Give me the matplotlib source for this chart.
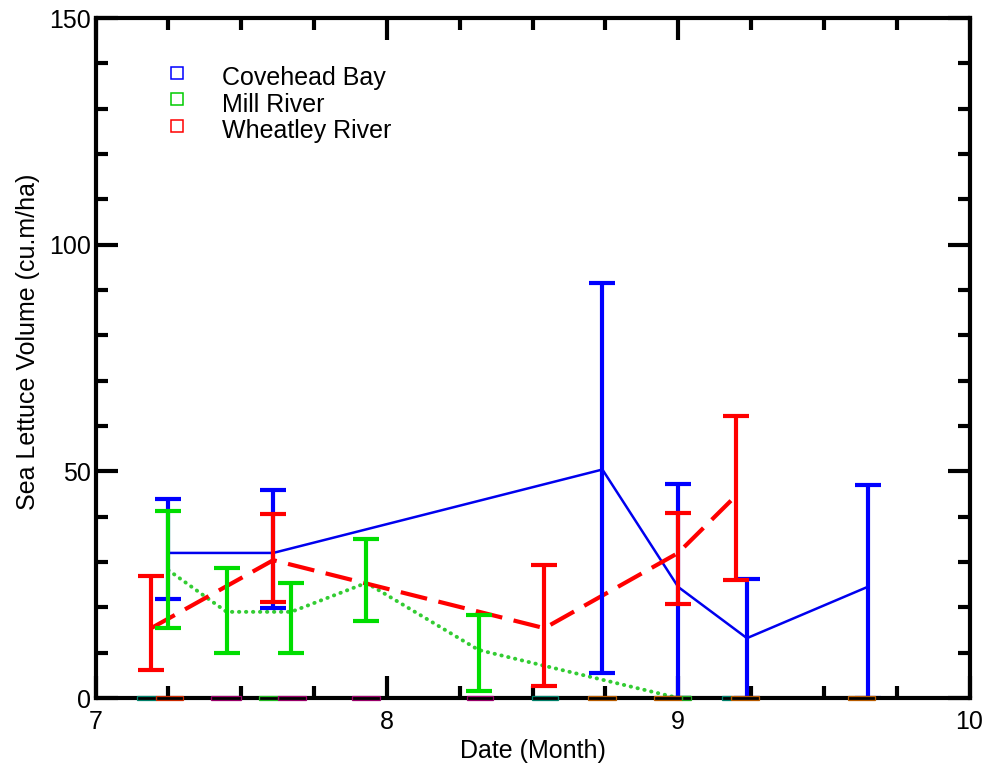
import matplotlib
matplotlib.use("Agg")
import matplotlib.pyplot as plt
import numpy as np
from matplotlib.ticker import MultipleLocator

plt.rcParams['font.family'] = ['Liberation Sans', 'DejaVu Sans']

# Sampling dates (month, fractional) and sea lettuce volume (cu.m/ha)
cove_x = [7.25, 7.61, 8.74, 9.0, 9.236, 9.65]
cove_y = [32.0, 32.0, 50.4, 24.5, 13.2, 24.5]
cove_low = [21.8, 19.9, 5.5, 0.0, 0.0, 0.0]
cove_high = [43.9, 45.9, 91.5, 47.2, 26.2, 47.0]

mill_x = [7.25, 7.45, 7.672, 7.93, 8.315, 9.0]
mill_y = [28.2, 19.0, 19.0, 25.4, 10.6, 0.0]
mill_low = [15.4, 10.0, 10.0, 17.0, 1.5, 0.0]
mill_high = [41.3, 28.7, 25.4, 35.0, 18.3, 0.0]

wheat_x = [7.191, 7.61, 8.541, 9.0, 9.198]
wheat_y = [15.4, 30.4, 15.4, 32.0, 44.6]
wheat_low = [6.2, 21.2, 2.6, 20.7, 26.0]
wheat_high = [26.9, 40.6, 29.3, 40.8, 62.2]

# Zero-volume survey records sitting on the baseline (start / end month)
zero_start = [7.141, 7.209, 7.398, 7.560, 7.625, 7.882, 8.274, 8.497,
              8.689, 8.916, 9.012, 9.149, 9.183, 9.582]
zero_end = [7.209, 7.302, 7.498, 7.625, 7.724, 7.978, 8.366, 8.589,
            8.785, 9.012, 9.043, 9.183, 9.276, 9.677]
zero_colors = ['#00806a', '#cc2a00', '#9a006a', '#22bb22', '#9a006a', '#9a006a',
               '#9a006a', '#00806a', '#b85c00', '#b85c00', '#22aa22', '#00806a',
               '#b85c00', '#b85c00']

series_names = ['Covehead Bay', 'Mill River', 'Wheatley River']
series_colors = ['#0000ff', '#00cc00', '#ff0000']

FS = 18

fig = plt.figure(figsize=(9.84, 7.64), dpi=100)
ax = fig.add_axes([95.5 / 984, 66 / 764, 874 / 984, 680 / 764])


def err(vals, low, high):
    v = np.asarray(vals)
    return [v - np.asarray(low), np.asarray(high) - v]


# connecting lines
ax.plot(cove_x, cove_y, color='#0000ee', lw=1.8, zorder=2)
ax.plot(mill_x, mill_y, color='#33cc33', lw=2.8,
        linestyle=(0, (0.1, 1.7)), dash_capstyle='round', zorder=2)
ax.plot(wheat_x, wheat_y, color='#ff0000', lw=3.0,
        linestyle=(0, (6.5, 2.8)), zorder=2)

# error bars
ekw = dict(fmt='none', elinewidth=3, capsize=9.5, capthick=3)
ax.errorbar(cove_x, cove_y, yerr=err(cove_y, cove_low, cove_high),
            ecolor='#0000ff', zorder=2.1, **ekw)
ax.errorbar(mill_x, mill_y, yerr=err(mill_y, mill_low, mill_high),
            ecolor='#00dd00', zorder=2.2, **ekw)
ax.errorbar(wheat_x, wheat_y, yerr=err(wheat_y, wheat_low, wheat_high),
            ecolor='#ff0000', zorder=2.3, **ekw)

# zero records drawn as thin hollow boxes on the baseline
zs = np.asarray(zero_start)
ze = np.asarray(zero_end)
ax.bar(zs, 1.1, width=ze - zs, bottom=-0.55, align='edge', fill=False,
       edgecolor=zero_colors, linewidth=0.9, clip_on=False, zorder=3)

ax.set_xlim(7, 10)
ax.set_ylim(0, 150)
ax.xaxis.set_major_locator(MultipleLocator(1))
ax.xaxis.set_minor_locator(MultipleLocator(0.25))
ax.yaxis.set_major_locator(MultipleLocator(50))
ax.yaxis.set_minor_locator(MultipleLocator(10))

for s in ax.spines.values():
    s.set_linewidth(3)
    s.set_zorder(2.6)

ax.tick_params(which='both', direction='in', top=True, right=True,
               width=3, labelsize=FS)
ax.tick_params(which='major', length=16)
ax.tick_params(which='minor', length=8.5)
ax.tick_params(axis='x', pad=8.5)
ax.tick_params(axis='y', pad=3)

ax.set_xlabel('Date (Month)', fontsize=FS, labelpad=4)
ax.set_ylabel('Sea Lettuce Volume (cu.m/ha)', fontsize=FS)
ax.yaxis.set_label_coords(-0.064, 0.5235)

# key: hollow squares with labels
for i, (name, col) in enumerate(zip(series_names, series_colors)):
    yk = 0.9196 - i * 0.039
    ax.plot([0.0938], [yk], marker='s', ms=9.0, mfc='none', mec=col, mew=1.1,
            linestyle='none', transform=ax.transAxes, clip_on=False)
    ax.text(0.1453, yk - 0.0185, name, transform=ax.transAxes,
            fontsize=FS, va='baseline', ha='left')

fig.savefig('out.png', dpi=100)
